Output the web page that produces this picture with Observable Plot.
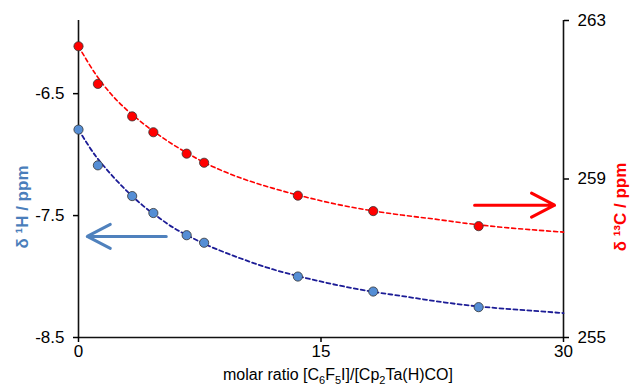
<!DOCTYPE html>
<html>
<head>
<meta charset="utf-8">
<script src="https://cdn.jsdelivr.net/npm/d3@7"></script>
<script src="https://cdn.jsdelivr.net/npm/@observablehq/plot@0.6"></script>
<style>
  html, body { margin: 0; padding: 0; background: #fff; }
  #chart svg { display: block; }
</style>
</head>
<body>
<div id="chart"></div>
<script>
// measured points: molar ratio, δ1H (left axis), δ13C (right axis)
const ratio  = [0, 1.2, 3.32, 4.63, 6.69, 7.77, 13.57, 18.23, 24.75];
const shiftH = [-6.795, -7.088, -7.34, -7.479, -7.661, -7.723, -8.0, -8.123, -8.251];
const shiftC = [262.35, 261.40, 260.58, 260.18, 259.64, 259.41, 258.58, 258.19, 257.81];

// fitted curves
const fitX = [0, 1, 2, 3, 4, 5, 6, 7, 8, 10, 12, 14, 16, 18, 20, 22, 24, 26, 28, 30];
const fitH = [-6.795, -7.0, -7.16, -7.30, -7.42, -7.52, -7.61, -7.68, -7.745, -7.85, -7.94, -8.01, -8.07, -8.12, -8.16, -8.20, -8.235, -8.26, -8.28, -8.30];
const fitC = [262.35, 261.68, 261.15, 260.74, 260.40, 260.10, 259.83, 259.59, 259.37, 259.03, 258.77, 258.55, 258.36, 258.21, 258.09, 257.99, 257.88, 257.79, 257.72, 257.66];

// arrows (from, to, level)
const arrowH = {x1: 5.43, x2: 0.54, y: -7.671};
const arrowC = {x1: 24.5, x2: 29.45, y: 258.34};

// ticks
const xTicks = [0, 15, 30];
const leftTicks = [-6.5, -7.5, -8.5];
const rightTicks = [255, 259, 263];

const leftDomain = [-8.5, -5.9];
const rightDomain = [255, 263];
const c2h = d3.scaleLinear(rightDomain, leftDomain);

const pts = ratio.map((r, i) => ({x: r, h: shiftH[i], c: c2h(shiftC[i])}));
const fit = fitX.map((r, i) => ({x: r, h: fitH[i], c: c2h(fitC[i])}));

const blue = "#558ed5";
const blueArrow = "#4f81bd";
const navy = "#1c1c96";
const red = "#ff0000";
const font = "'Liberation Sans', Arial, sans-serif";

const plot = Plot.plot({
  width: 635,
  height: 385,
  marginLeft: 78,
  marginRight: 72,
  marginTop: 20,
  marginBottom: 48,
  style: {fontSize: "17px", fontFamily: font, color: "#000", background: "#fff"},
  x: {domain: [0, 30]},
  y: {domain: leftDomain},
  marks: [
    Plot.ruleX([0, 30], {stroke: "#111", strokeWidth: 1.6}),
    Plot.ruleY([leftDomain[0]], {stroke: "#111", strokeWidth: 1.6}),
    Plot.axisX(xTicks, {anchor: "bottom", tickSize: 5, tickPadding: 2, strokeWidth: 1.5, label: null,
      tickFormat: d => String(d)}),
    Plot.axisY(leftTicks, {anchor: "left", tickSize: 5, tickPadding: 9, strokeWidth: 1.5, label: null,
      tickFormat: d => String(d)}),
    Plot.axisY(rightTicks.map(c2h), {anchor: "right", tickSize: 5, tickPadding: 9, strokeWidth: 1.5, label: null,
      tickFormat: d => String(Math.round(c2h.invert(d)))}),
    Plot.line(fit, {x: "x", y: "c", stroke: red, strokeWidth: 1.6, strokeDasharray: "4,3", curve: "catmull-rom"}),
    Plot.line(fit, {x: "x", y: "h", stroke: navy, strokeWidth: 1.8, strokeDasharray: "4,3", curve: "catmull-rom"}),
    Plot.arrow([arrowH], {x1: "x1", x2: "x2", y1: "y", y2: "y", stroke: blueArrow, strokeWidth: 3, headLength: 13, headAngle: 55}),
    Plot.arrow([arrowC], {x1: "x1", x2: "x2", y1: d => c2h(d.y), y2: d => c2h(d.y), stroke: red, strokeWidth: 3, headLength: 13, headAngle: 55}),
    Plot.dot(pts, {x: "x", y: "c", r: 4.6, fill: red, stroke: "#333", strokeWidth: 0.8}),
    Plot.dot(pts, {x: "x", y: "h", r: 4.6, fill: blue, stroke: "#333", strokeWidth: 0.8})
  ]
});

const svg = d3.select(plot);

// rotated axis titles
function vTitle(x, y, txt, color) {
  svg.append("text")
    .attr("transform", `translate(${x},${y}) rotate(-90)`)
    .attr("text-anchor", "middle")
    .attr("dominant-baseline", "middle")
    .attr("font-family", font)
    .attr("font-size", 17)
    .attr("font-weight", "bold")
    .attr("fill", color)
    .text(txt);
}
vTitle(24, 207, "δ ¹H / ppm", "#4a7ebb");
vTitle(622, 207, "δ ¹³C / ppm", red);

// x-axis title with subscripts
const t = svg.append("text")
  .attr("x", 338).attr("y", 380)
  .attr("text-anchor", "middle")
  .attr("font-family", font)
  .attr("font-size", 16)
  .attr("fill", "#000");
const parts = [["molar ratio [C", 0], ["6", 1], ["F", 0], ["5", 1], ["I]/[Cp", 0], ["2", 1], ["Ta(H)CO]", 0]];
let prevSub = 0;
for (const [s, sub] of parts) {
  const dy = sub && !prevSub ? 4 : (!sub && prevSub ? -4 : 0);
  const span = t.append("tspan").attr("dy", dy).text(s);
  if (sub) span.attr("font-size", 11);
  prevSub = sub;
}

document.getElementById("chart").appendChild(plot);
</script>
</body>
</html>
